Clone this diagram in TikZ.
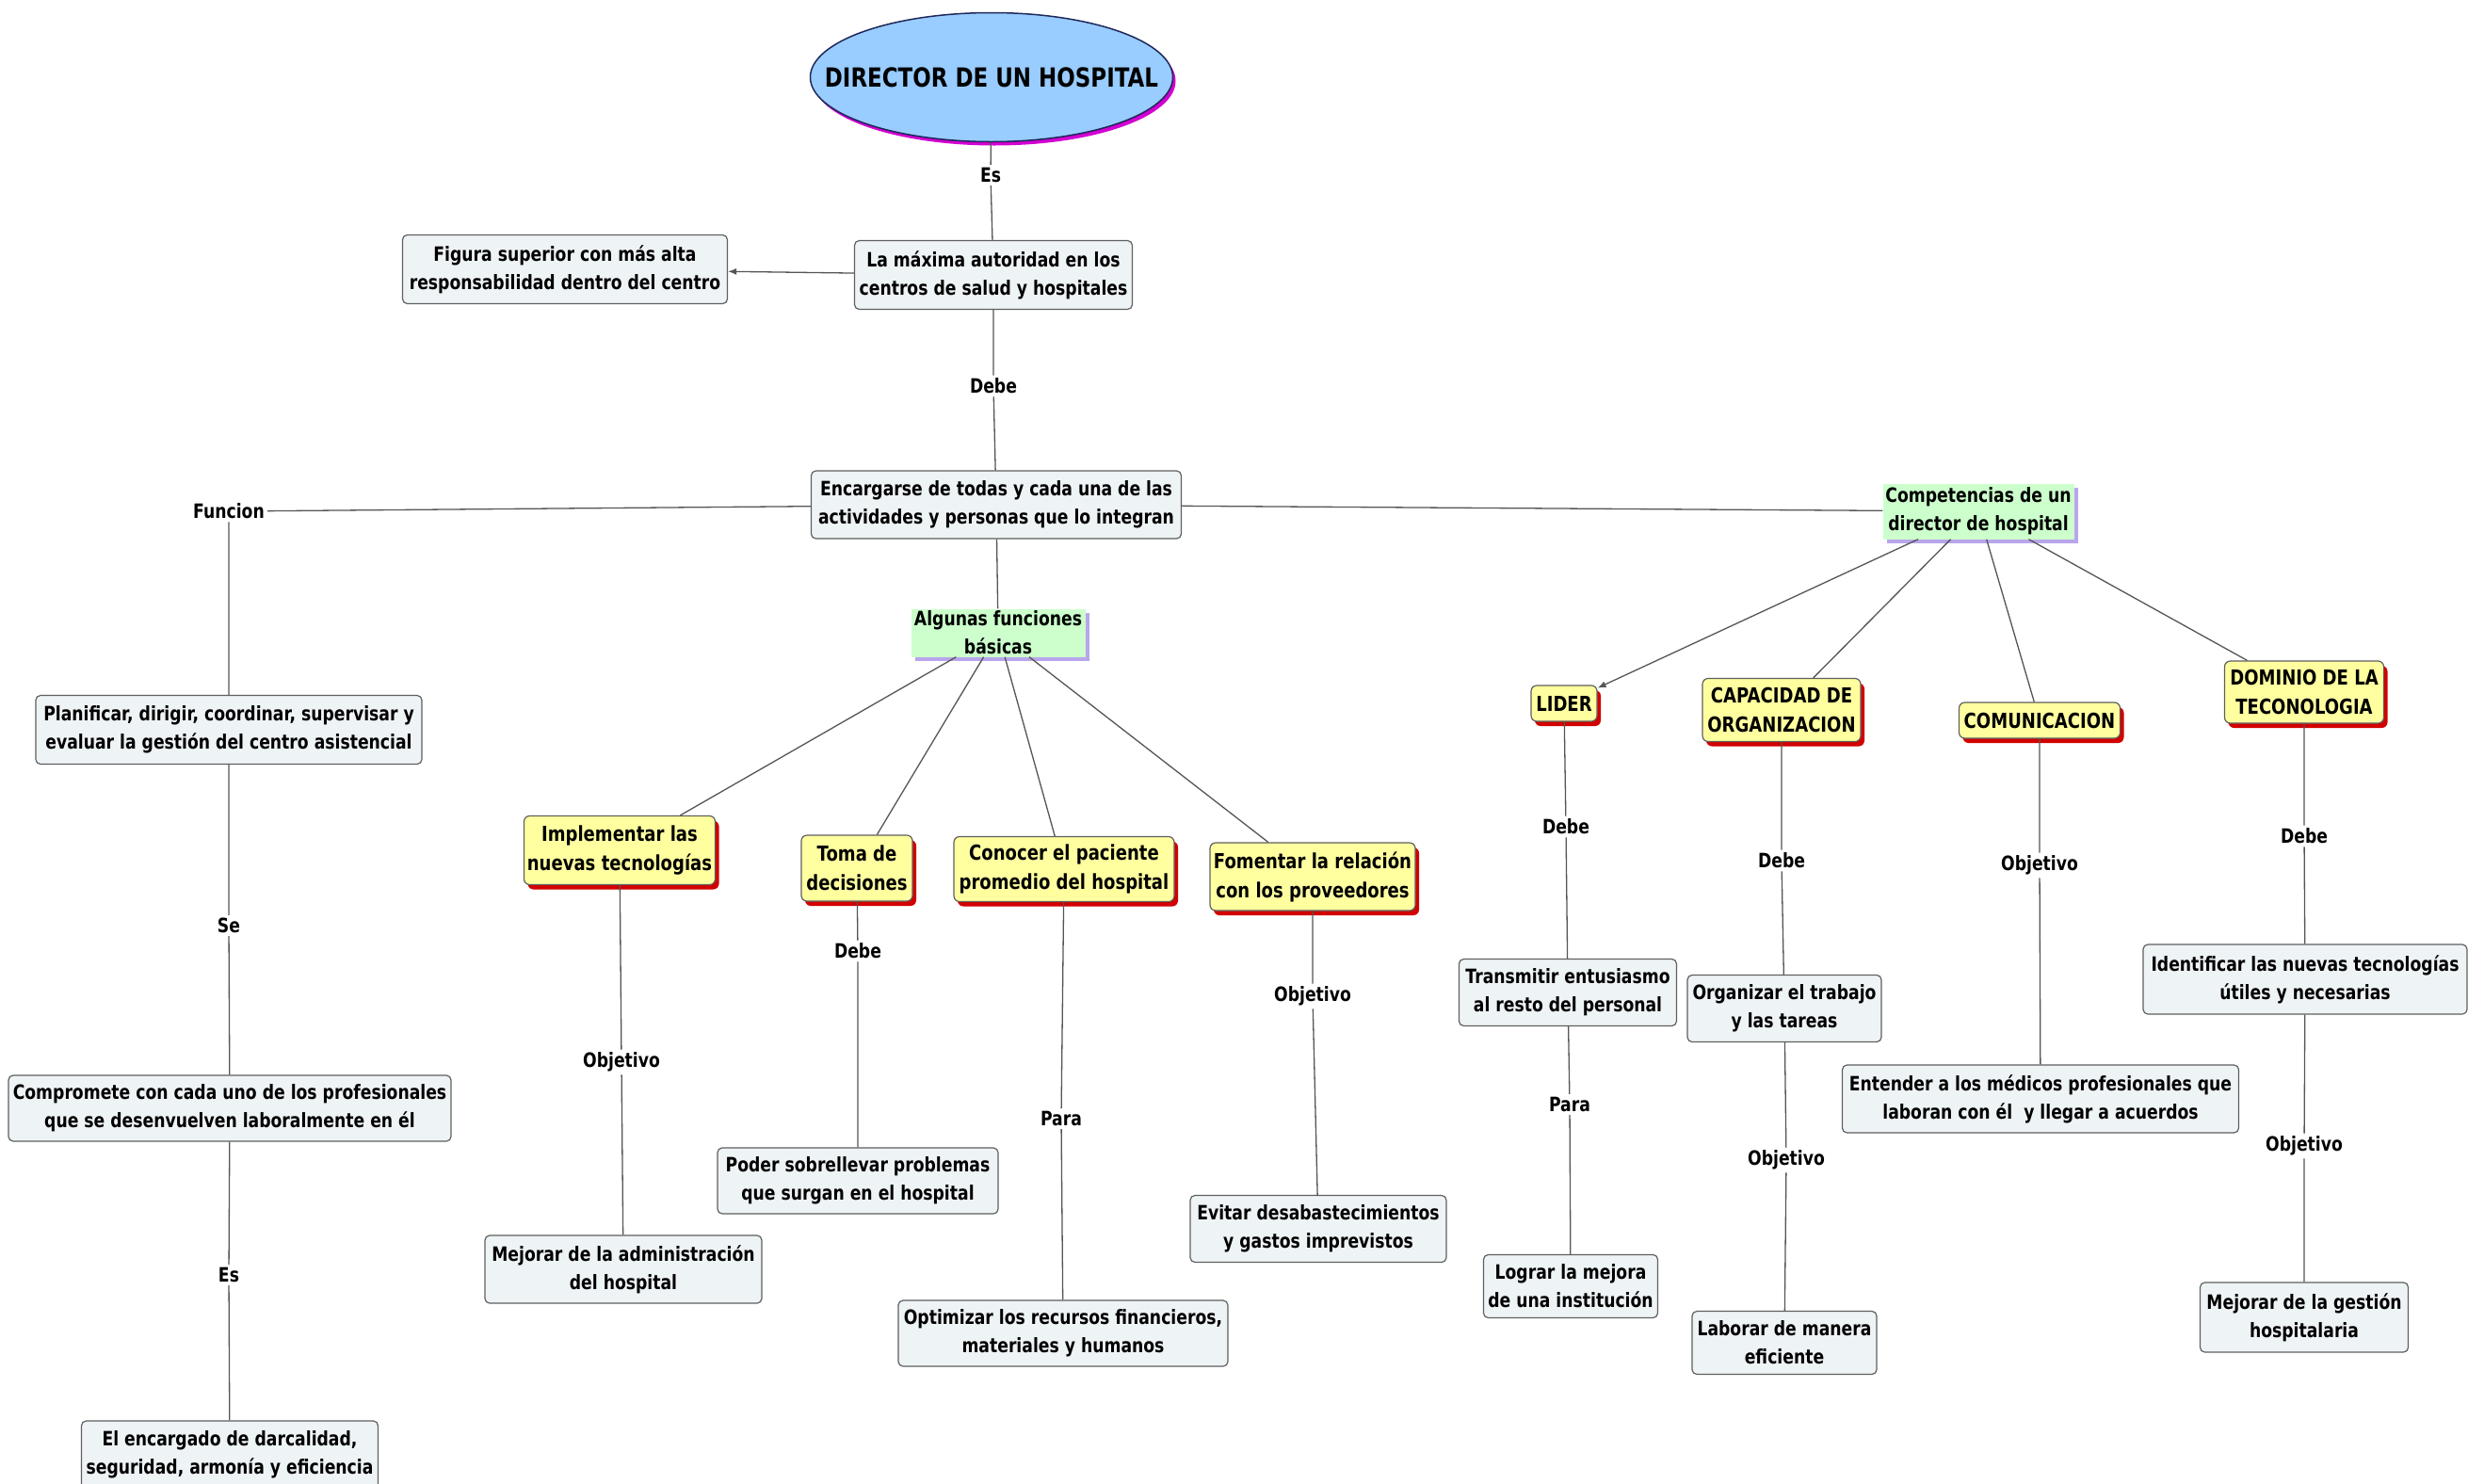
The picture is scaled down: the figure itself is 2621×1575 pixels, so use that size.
\documentclass[tikz,border=0pt]{standalone}
\usepackage{fontspec}
\setmainfont{DejaVu Sans}[FakeStretch=0.82]
\usetikzlibrary{shapes.geometric,shadows,arrows.meta}
\definecolor{grayfill}{RGB}{238,243,245}
\definecolor{linec}{RGB}{85,85,85}
\definecolor{boxborder}{RGB}{95,95,95}
\definecolor{yel}{RGB}{255,255,160}
\definecolor{redsh}{RGB}{210,0,0}
\definecolor{grn}{RGB}{204,255,204}
\definecolor{lav}{RGB}{185,165,235}
\definecolor{blu}{RGB}{153,204,255}
\definecolor{navy}{RGB}{30,40,90}
\definecolor{mag}{RGB}{210,0,210}
\begin{document}
\begin{tikzpicture}[x=1pt,y=-1pt,
  every node/.style={font=\fontsize{21}{30}\selectfont\bfseries, align=center},
  graybox/.style={draw=boxborder, fill=grayfill, line width=1.2pt, rounded corners=5pt, inner sep=2pt},
  yelbox/.style={draw=boxborder, fill=yel, line width=1.2pt, rounded corners=6pt, inner sep=2pt,
     font=\fontsize{22}{31}\selectfont\bfseries,
     drop shadow={shadow xshift=4pt, shadow yshift=-5pt, fill=redsh, opacity=1}},
  grnbox/.style={fill=grn, inner sep=2pt,
     drop shadow={shadow xshift=4pt, shadow yshift=-4pt, fill=lav, opacity=1}},
  lbl/.style={inner sep=3pt},
  conn/.style={draw=linec, line width=1.3pt},
  arr/.style={conn, -{Latex[length=9pt,width=7pt]}},
]
\useasboundingbox (0,0) rectangle (2621,1575);

% title
\node[ellipse, draw=navy, fill=blu, line width=1.5pt, minimum width=385pt, minimum height=137pt, inner sep=0pt,
  drop shadow={shadow xshift=3pt, shadow yshift=-4pt, fill=mag, opacity=1},
  font=\fontsize{28}{30}\selectfont\bfseries] (title) at (1053,82) {\makebox[0pt]{DIRECTOR DE UN HOSPITAL}};

% gray boxes
\node[graybox, minimum width=295pt, minimum height=73pt] (maxima) at (1055,292) {La máxima autoridad en los\\centros de salud y hospitales};
\node[graybox, minimum width=345pt, minimum height=73pt] (figura) at (600,286) {Figura superior con más alta\\responsabilidad dentro del centro};
\node[graybox, minimum width=393pt, minimum height=72pt] (encarg) at (1058,536) {Encargarse de todas y cada una de las\\actividades y personas que lo integran};
\node[graybox, minimum width=410pt, minimum height=73pt] (planif) at (243,775) {Planificar, dirigir, coordinar, supervisar y\\evaluar la gestión del centro asistencial};
\node[graybox, minimum width=470pt, minimum height=70pt] (compro) at (244,1177) {Compromete con cada uno de los profesionales\\que se desenvuelven laboralmente en él};
\node[graybox, minimum width=315pt, minimum height=72pt] (encgdo) at (244,1545) {El encargado de darcalidad,\\seguridad, armonía y eficiencia};
\node[graybox, minimum width=294pt, minimum height=72pt] (mejadm) at (662,1348) {Mejorar de la administración\\del hospital};
\node[graybox, minimum width=298pt, minimum height=70pt] (poder) at (911,1254) {Poder sobrellevar problemas\\que surgan en el hospital};
\node[graybox, minimum width=350pt, minimum height=70pt] (optim) at (1129,1416) {Optimizar los recursos financieros,\\materiales y humanos};
\node[graybox, minimum width=272pt, minimum height=71pt] (evitar) at (1400,1305) {Evitar desabastecimientos\\y gastos imprevistos};
\node[graybox, minimum width=231pt, minimum height=71pt] (transm) at (1665,1054) {Transmitir entusiasmo\\al resto del personal};
\node[graybox, minimum width=206pt, minimum height=71pt] (organ) at (1895,1071) {Organizar el trabajo\\y las tareas};
\node[graybox, minimum width=185pt, minimum height=67pt] (lograr) at (1668,1366) {Lograr la mejora\\de una institución};
\node[graybox, minimum width=196pt, minimum height=67pt] (labor) at (1895,1426) {Laborar de manera\\eficiente};
\node[graybox, minimum width=421pt, minimum height=72pt] (entend) at (2167,1167) {Entender a los médicos profesionales que\\laboran con él\ \ y llegar a acuerdos};
\node[graybox, minimum width=344pt, minimum height=74pt] (identif) at (2448,1040) {Identificar las nuevas tecnologías\\útiles y necesarias};
\node[graybox, minimum width=221pt, minimum height=74pt] (mejges) at (2447,1399) {Mejorar de la gestión\\hospitalaria};

% green boxes
\node[grnbox, minimum width=185pt, minimum height=51pt] (algunas) at (1060,672) {Algunas funciones\\básicas};
\node[grnbox, minimum width=203pt, minimum height=59pt] (compet) at (2101,543) {Competencias de un\\director de hospital};

% yellow boxes
\node[yelbox, minimum width=203pt, minimum height=73pt] (implem) at (658,903) {Implementar las\\nuevas tecnologías};
\node[yelbox, minimum width=118pt, minimum height=70pt] (toma) at (910,922) {Toma de\\decisiones};
\node[yelbox, minimum width=234pt, minimum height=69pt] (conocer) at (1130,923) {Conocer el paciente\\promedio del hospital};
\node[yelbox, minimum width=218pt, minimum height=72pt] (foment) at (1394,931) {Fomentar la relación\\con los proveedores};
\node[yelbox, minimum width=70pt, minimum height=38pt] (lider) at (1661,747) {LIDER};
\node[yelbox, minimum width=168pt, minimum height=67pt] (capac) at (1892,754) {CAPACIDAD DE\\ORGANIZACION};
\node[yelbox, minimum width=171pt, minimum height=38pt] (comun) at (2166,765) {COMUNICACION};
\node[yelbox, minimum width=169pt, minimum height=66pt] (domin) at (2447,735) {DOMINIO DE LA\\TECONOLOGIA};

% labels
\node[lbl] (lEs) at (1052,186) {Es};
\node[lbl] (lDebe) at (1055,410) {Debe};
\node[lbl] (lFunc) at (243,543) {Funcion};
\node[lbl] (lSe) at (243,983) {Se};
\node[lbl] (lEs2) at (243,1354) {Es};
\node[lbl] (lObjA) at (660,1128) {Objetivo};
\node[lbl] (lDebeB) at (911,1010) {Debe};
\node[lbl] (lParaC) at (1127,1188) {Para};
\node[lbl] (lObjD) at (1394,1058) {Objetivo};
\node[lbl] (lDebeL) at (1663,878) {Debe};
\node[lbl] (lParaL) at (1667,1173) {Para};
\node[lbl] (lDebeC) at (1892,914) {Debe};
\node[lbl] (lObjC) at (1897,1232) {Objetivo};
\node[lbl] (lObjM) at (2166,919) {Objetivo};
\node[lbl] (lDebeD) at (2447,888) {Debe};
\node[lbl] (lObjT) at (2447,1217) {Objetivo};

% connectors
\draw[conn] (title) -- (lEs) -- (maxima);
\draw[arr] (maxima) -- (figura);
\draw[conn] (maxima) -- (lDebe) -- (encarg);
\draw[conn] (encarg) -- (lFunc) -- (planif);
\draw[conn] (planif) -- (lSe) -- (compro);
\draw[conn] (compro) -- (lEs2) -- (encgdo);
\draw[conn] (encarg) -- (algunas);
\draw[conn] (encarg) -- (compet);
\draw[conn] (algunas) -- (implem);
\draw[conn] (algunas) -- (toma);
\draw[conn] (algunas) -- (conocer);
\draw[conn] (algunas) -- (foment);
\draw[conn] (implem) -- (lObjA) -- (mejadm);
\draw[conn] (toma) -- (lDebeB) -- (poder);
\draw[conn] (conocer) -- (lParaC) -- (optim);
\draw[conn] (foment) -- (lObjD) -- (evitar);
\draw[arr] (compet) -- (lider);
\draw[conn] (compet) -- (capac);
\draw[conn] (compet) -- (comun);
\draw[conn] (compet) -- (domin);
\draw[conn] (lider) -- (lDebeL) -- (transm);
\draw[conn] (transm) -- (lParaL) -- (lograr);
\draw[conn] (capac) -- (lDebeC) -- (organ);
\draw[conn] (organ) -- (lObjC) -- (labor);
\draw[conn] (comun) -- (lObjM) -- (entend);
\draw[conn] (domin) -- (lDebeD) -- (identif);
\draw[conn] (identif) -- (lObjT) -- (mejges);
\end{tikzpicture}
\end{document}
